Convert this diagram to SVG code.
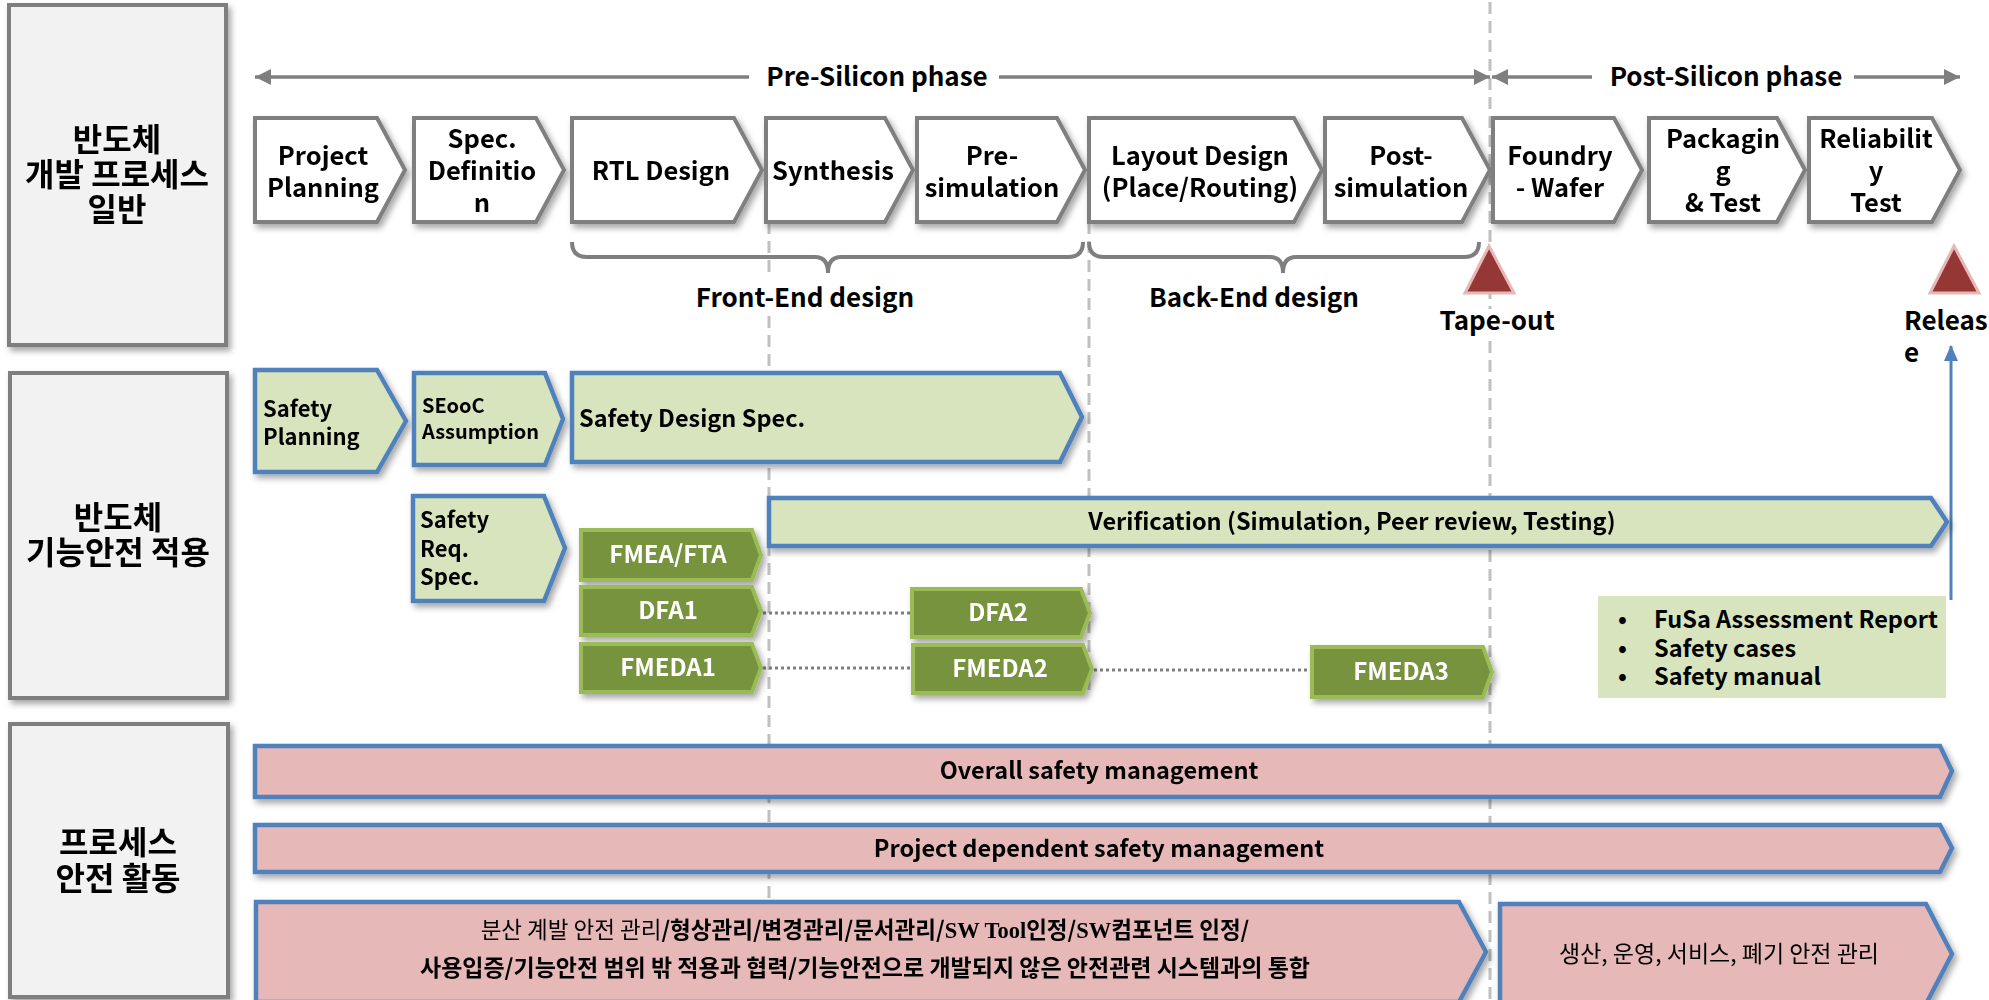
<svg xmlns="http://www.w3.org/2000/svg" width="1989" height="1000" viewBox="0 0 1989 1000">
<defs>
<filter id="sh" x="-10%" y="-20%" width="125%" height="150%"><feDropShadow dx="3" dy="4" stdDeviation="3" flood-color="#000" flood-opacity="0.35"/></filter>
<marker id="ah" viewBox="0 0 16 16" refX="16" refY="8" markerWidth="16" markerHeight="16" markerUnits="userSpaceOnUse" orient="auto-start-reverse"><path d="M0,0 L16,8 L0,16 Z" fill="#7f7f7f"/></marker>
<marker id="ahb" viewBox="0 0 16 16" refX="15" refY="8" markerWidth="16" markerHeight="16" markerUnits="userSpaceOnUse" orient="auto"><path d="M0,1 L16,8 L0,15 Z" fill="#4f81bd"/></marker>
</defs>
<style>
text{font-family:"Noto Sans CJK KR","Noto Sans",sans-serif;font-weight:700;fill:#000}
.lab{fill:#f2f2f2;stroke:#7f7f7f;stroke-width:4}
.lt{font-size:32px;text-anchor:middle}
.ch{fill:#fff;stroke:#7f7f7f;stroke-width:4}
.ct{font-size:25.5px;text-anchor:middle}
.pt{font-size:26px;text-anchor:middle}
.gb{fill:#d7e4bd;stroke:#4f81bd;stroke-width:4.5}
.dg{fill:#77933c;stroke:#9bbb59;stroke-width:4}
.wt{font-size:24px;text-anchor:middle;fill:#fff}
.pk{fill:#e6b9b8;stroke:#4f81bd;stroke-width:4.5}
.dash{stroke:#c0c0c0;stroke-width:3;stroke-dasharray:12 7;fill:none}
.dot{stroke:#7f7f7f;stroke-width:3;stroke-dasharray:3 3;fill:none}
.arr{stroke:#7f7f7f;stroke-width:3.5;fill:none}
.brace{stroke:#7f7f7f;stroke-width:4;fill:none}
.tri{fill:#953735;stroke:#e6b9b8;stroke-width:3}
.s22{font-size:22px}
.s23{font-size:23.5px}
.s20{font-size:20px}
.reg{font-weight:400}
.serif{font-family:"Liberation Serif",serif}
</style>

<g id="connectors">
<line class="dash" x1="769" y1="222" x2="769" y2="278"/>
<line class="dash" x1="769" y1="316" x2="769" y2="1000"/>
<line class="dash" x1="1089" y1="222" x2="1089" y2="697"/>
<line class="dash" x1="1490" y1="2" x2="1490" y2="309"/>
<line class="dash" x1="1490" y1="341" x2="1490" y2="1000"/>
<line class="arr" x1="255" y1="77" x2="749" y2="77" marker-start="url(#ah)"/>
<line class="arr" x1="999" y1="77" x2="1490" y2="77" marker-end="url(#ah)"/>
<line class="arr" x1="1492" y1="77" x2="1592" y2="77" marker-start="url(#ah)"/>
<line class="arr" x1="1854" y1="77" x2="1960" y2="77" marker-end="url(#ah)"/>
<path class="brace" d="M572,242 Q572,257 587,257 H815 Q828,257 828,273 Q828,257 841,257 H1068 Q1083,257 1083,242"/>
<path class="brace" d="M1089,242 Q1089,257 1104,257 H1270 Q1283,257 1283,273 Q1283,257 1296,257 H1464 Q1479,257 1479,242"/>
<line class="dot" x1="763" y1="613" x2="911" y2="613"/>
<line class="dot" x1="763" y1="668" x2="913" y2="668"/>
<line class="dot" x1="1094" y1="670" x2="1312" y2="670"/>
<line x1="1951" y1="600" x2="1951" y2="346" stroke="#4f81bd" stroke-width="3" marker-end="url(#ahb)"/>
</g>

<g id="labels">
<g id="label-general" filter="url(#sh)">
<rect class="lab" x="9" y="5" width="217" height="340"/>
<text class="lt"><tspan x="117" y="151">반도체</tspan><tspan x="117" y="186">개발 프로세스</tspan><tspan x="117" y="221">일반</tspan></text>
</g>
<g id="label-fusa" filter="url(#sh)">
<rect class="lab" x="10" y="373" width="217" height="325"/>
<text class="lt"><tspan x="118" y="529">반도체</tspan><tspan x="118" y="564">기능안전 적용</tspan></text>
</g>
<g id="label-process" filter="url(#sh)">
<rect class="lab" x="10" y="724" width="218" height="273"/>
<text class="lt"><tspan x="118" y="854">프로세스</tspan><tspan x="118" y="890">안전 활동</tspan></text>
</g>
</g>

<g id="phases">
<text class="pt" x="877" y="86">Pre-Silicon phase</text>
<text class="pt" x="1726" y="86">Post-Silicon phase</text>
<text class="pt" x="805" y="307">Front-End design</text>
<text class="pt" x="1254" y="307">Back-End design</text>
</g>

<g id="process-steps" filter="url(#sh)">
<g id="step-project-planning"><path class="ch" d="M255,118 H377 L405,170 L377,222 H255 Z"/><text class="ct"><tspan x="323" y="165">Project</tspan><tspan x="323" y="197">Planning</tspan></text></g>
<g id="step-spec"><path class="ch" d="M414,118 H536 L564,170 L536,222 H414 Z"/><text class="ct"><tspan x="482" y="148">Spec.</tspan><tspan x="482" y="180">Definitio</tspan><tspan x="482" y="212">n</tspan></text></g>
<g id="step-rtl"><path class="ch" d="M572,118 H734 L762,170 L734,222 H572 Z"/><text class="ct" x="661" y="180">RTL Design</text></g>
<g id="step-synthesis"><path class="ch" d="M766,118 H885 L913,170 L885,222 H766 Z"/><text class="ct" x="833" y="180">Synthesis</text></g>
<g id="step-presim"><path class="ch" d="M917,118 H1057 L1085,170 L1057,222 H917 Z"/><text class="ct"><tspan x="992" y="165">Pre-</tspan><tspan x="992" y="197">simulation</tspan></text></g>
<g id="step-layout"><path class="ch" d="M1089,118 H1294 L1322,170 L1294,222 H1089 Z"/><text class="ct"><tspan x="1200" y="165">Layout Design</tspan><tspan x="1200" y="197">(Place/Routing)</tspan></text></g>
<g id="step-postsim"><path class="ch" d="M1325,118 H1462 L1490,170 L1462,222 H1325 Z"/><text class="ct"><tspan x="1401" y="165">Post-</tspan><tspan x="1401" y="197">simulation</tspan></text></g>
<g id="step-foundry"><path class="ch" d="M1493,118 H1614 L1642,170 L1614,222 H1493 Z"/><text class="ct"><tspan x="1560" y="165">Foundry</tspan><tspan x="1560" y="197">- Wafer</tspan></text></g>
<g id="step-packaging"><path class="ch" d="M1649,118 H1777 L1805,170 L1777,222 H1649 Z"/><text class="ct"><tspan x="1723" y="148">Packagin</tspan><tspan x="1723" y="180">g</tspan><tspan x="1723" y="212">&amp; Test</tspan></text></g>
<g id="step-reliability"><path class="ch" d="M1809,118 H1932 L1960,170 L1932,222 H1809 Z"/><text class="ct"><tspan x="1876" y="148">Reliabilit</tspan><tspan x="1876" y="180">y</tspan><tspan x="1876" y="212">Test</tspan></text></g>
</g>

<g id="milestones">
<g id="tapeout"><polygon class="tri" points="1489,246 1514,293 1465,293"/><text class="pt" x="1497" y="330">Tape-out</text></g>
<g id="release"><polygon class="tri" points="1954,246 1979,293 1930,293"/><text style="font-size:26px"><tspan x="1904" y="330">Releas</tspan><tspan x="1904" y="362">e</tspan></text></g>
</g>

<g id="fusa" filter="url(#sh)">
<g id="safety-planning"><path class="gb" d="M255,370 H377 L406,421 L377,472 H255 Z"/><text class="s22"><tspan x="263" y="417">Safety</tspan><tspan x="263" y="445">Planning</tspan></text></g>
<g id="seooc"><path class="gb" d="M414,373 H545 L563,419 L545,465 H414 Z"/><text class="s20"><tspan x="422" y="413">SEooC</tspan><tspan x="422" y="439">Assumption</tspan></text></g>
<g id="safety-design-spec"><path class="gb" d="M572,373 H1060 L1082,417 L1060,462 H572 Z"/><text class="s23" x="579" y="427">Safety Design Spec.</text></g>
<g id="safety-req-spec"><path class="gb" d="M413,496 H544 L565,548 L544,601 H413 Z"/><text class="s22"><tspan x="420" y="528">Safety</tspan><tspan x="420" y="557">Req.</tspan><tspan x="420" y="585">Spec.</tspan></text></g>
<g id="verification"><path class="gb" d="M769,498 H1931 L1947,522 L1931,546 H769 Z"/><text class="s23" x="1352" y="530" text-anchor="middle">Verification (Simulation, Peer review, Testing)</text></g>
<g id="fmea-fta"><path class="dg" d="M581,530 H752 L761,555 L752,580 H581 Z"/><text class="wt" x="668" y="563">FMEA/FTA</text></g>
<g id="dfa1"><path class="dg" d="M581,587 H752 L761,611 L752,635 H581 Z"/><text class="wt" x="668" y="619">DFA1</text></g>
<g id="fmeda1"><path class="dg" d="M581,644 H752 L761,668 L752,692 H581 Z"/><text class="wt" x="668" y="676">FMEDA1</text></g>
<g id="dfa2"><path class="dg" d="M912,589 H1081 L1090,613 L1081,637 H912 Z"/><text class="wt" x="998" y="621">DFA2</text></g>
<g id="fmeda2"><path class="dg" d="M913,645 H1083 L1092,669 L1083,693 H913 Z"/><text class="wt" x="1000" y="677">FMEDA2</text></g>
<g id="fmeda3"><path class="dg" d="M1312,647 H1483 L1492,672 L1483,697 H1312 Z"/><text class="wt" x="1401" y="680">FMEDA3</text></g>
</g>
<g id="deliverables">
<rect x="1598" y="596" width="348" height="102" fill="#d7e4bd"/>
<text class="s23"><tspan x="1618" y="628">•</tspan><tspan x="1654" y="628">FuSa Assessment Report</tspan><tspan x="1618" y="657">•</tspan><tspan x="1654" y="657">Safety cases</tspan><tspan x="1618" y="685">•</tspan><tspan x="1654" y="685">Safety manual</tspan></text>
</g>

<g id="process-safety" filter="url(#sh)">
<g id="overall"><path class="pk" d="M255,746 H1940 L1952,771 L1940,797 H255 Z"/><text class="s23" x="1099" y="779" text-anchor="middle">Overall safety management</text></g>
<g id="project-dependent"><path class="pk" d="M255,825 H1940 L1952,848 L1940,872 H255 Z"/><text class="s23" x="1099" y="857" text-anchor="middle">Project dependent safety management</text></g>
<g id="distributed"><path class="pk" d="M256,902 H1459 L1486,952 L1459,1002 H256 Z"/>
<text style="font-size:22.5px" x="865" y="938" text-anchor="middle"><tspan class="reg">분산 계발 안전 관리</tspan>/형상관리/변경관리/문서관리/<tspan class="serif">SW Tool</tspan>인정/<tspan class="serif">SW</tspan>컴포넌트 인정/</text>
<text style="font-size:23px" x="865" y="976" text-anchor="middle">사용입증/기능안전 범위 밖 적용과 협력/기능안전으로 개발되지 않은 안전관련 시스템과의 통합</text></g>
<g id="production"><path class="pk" d="M1500,904 H1926 L1952,954 L1926,1004 H1500 Z"/><text class="reg" style="font-size:23px" x="1719" y="962" text-anchor="middle">생산, 운영, 서비스, 폐기 안전 관리</text></g>
</g>
</svg>
